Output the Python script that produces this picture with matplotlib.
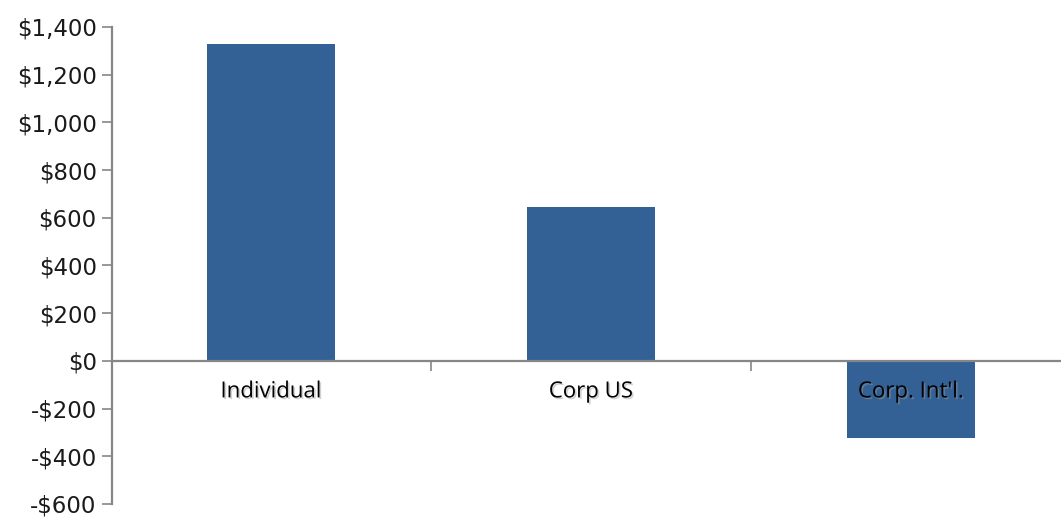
import matplotlib.pyplot as plt
import matplotlib.patheffects as pe
import numpy as np

categories = ['Individual', 'Corp US', "Corp. Int'l."]
values = [1330, 645, -325]
yticks = list(range(-600, 1401, 200))

fig = plt.figure(figsize=(10.61, 5.17), dpi=100)
ax = fig.add_axes([112 / 1061, 13 / 517, 949 / 1061, 477 / 517])

x = np.arange(len(categories))
ax.bar(x, values, width=0.4, color='#336195', zorder=2)

ax.set_xlim(-0.497, 2.469)
ax.set_ylim(-600, 1400)
ax.set_yticks(yticks)
ax.set_yticklabels(['-$' + format(-v, ',') if v < 0 else '$' + format(v, ',') for v in yticks],
                   fontsize=16.5, color='#1a1a1a', family='DejaVu Sans')

for s in ['top', 'right']:
    ax.spines[s].set_visible(False)
ax.spines['bottom'].set_position(('data', 0))
ax.spines['left'].set_color('#868686')
ax.spines['bottom'].set_color('#868686')
ax.spines['left'].set_linewidth(1.6)
ax.spines['bottom'].set_linewidth(1.6)
ax.spines['bottom'].set_zorder(3)
ax.tick_params(axis='y', direction='out', length=7, width=1.2, color='#868686', pad=4)

ax.set_xticks([])
ax.set_xticks([0.5, 1.5], minor=True)
ax.tick_params(axis='x', which='minor', direction='out', length=7, width=1.2, color='#868686')

shadow = [pe.withSimplePatchShadow(offset=(1.2, -1.2), shadow_rgbFace='#999999', alpha=0.45)]
for xi, lab in zip(x, categories):
    ax.annotate(lab, (xi, 0), xytext=(0, -31), textcoords='offset pixels',
                ha='center', va='center', fontsize=16, family='Open Sans',
                color='#000000', path_effects=shadow, zorder=4)

plt.savefig('out.png', dpi=100)
